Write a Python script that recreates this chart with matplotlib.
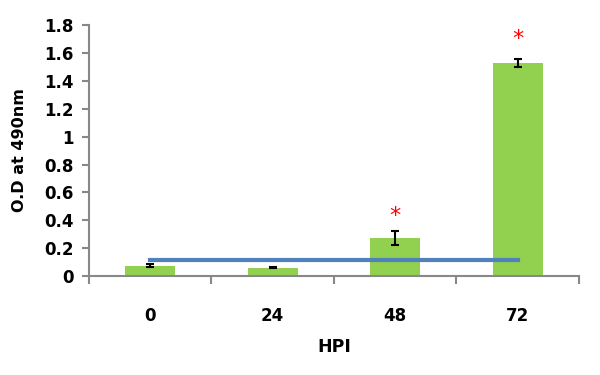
import numpy as np
import matplotlib.pyplot as plt

# data
hpi = ['0', '24', '48', '72']
od = [0.075, 0.06, 0.27, 1.53]
od_err = [0.01, 0.005, 0.05, 0.03]
baseline = [0.115, 0.115]
star_y = [None, None, 0.43, 1.70]

fig = plt.figure(figsize=(6, 3.75), dpi=100)
ax = fig.add_axes([0.148, 0.264, 0.817, 0.669])

x = np.arange(len(hpi))
ax.bar(x, od, width=0.41, color='#92D050', zorder=2)
ax.errorbar(x, od, yerr=od_err, fmt='none', ecolor='black', elinewidth=1.5,
            capsize=3, capthick=1.5, zorder=3)
ax.plot([x[0], x[-1]], baseline, color='#4F81BD', lw=3, zorder=4)

for xi, sy in zip(x, star_y):
    if sy is not None:
        ax.text(xi, sy, '*', color='red', fontsize=16,
                ha='center', va='center')

ax.set_xlim(-0.5, 3.5)
ax.set_ylim(0, 1.8)
ax.set_yticks(np.arange(0, 1.81, 0.2))
ax.set_yticklabels(['0', '0.2', '0.4', '0.6', '0.8', '1', '1.2', '1.4', '1.6', '1.8'])
ax.set_xticks(x)
ax.set_xticklabels(hpi)
ax.set_xticks(np.arange(-0.5, 3.6, 1), minor=True)
ax.tick_params(axis='x', which='major', length=0, pad=22)
ax.tick_params(axis='x', which='minor', length=6, color='#888888', width=1.5)
ax.tick_params(axis='y', length=5, color='#888888', width=1.5, pad=6)
for lab in ax.get_xticklabels() + ax.get_yticklabels():
    lab.set_fontweight('bold')
    lab.set_fontsize(12)

for s in ['top', 'right']:
    ax.spines[s].set_visible(False)
for s in ['left', 'bottom']:
    ax.spines[s].set_color('#888888')
    ax.spines[s].set_linewidth(1.5)

ax.set_xlabel('HPI', fontsize=12.5, fontweight='bold', labelpad=10)
ax.set_ylabel('O.D at 490nm', fontsize=11.5, fontweight='bold', labelpad=12)

fig.savefig('out.png', dpi=100)
